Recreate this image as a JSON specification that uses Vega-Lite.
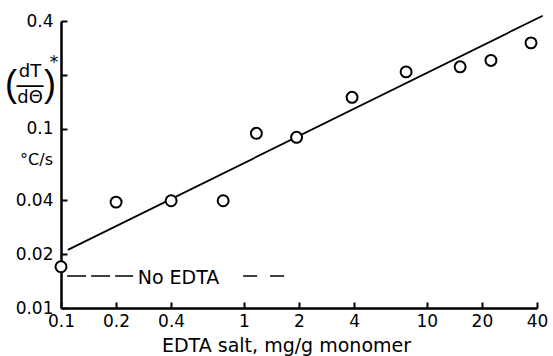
{
  "$schema": "https://vega.github.io/schema/vega-lite/v6.json",
  "width": 476,
  "height": 287,
  "autosize": "none",
  "padding": {"left": 61, "top": 21, "right": 16, "bottom": 48},
  "background": "white",
  "config": {
    "view": {"stroke": null},
    "font": "DejaVu Sans",
    "axis": {
      "grid": false,
      "domainColor": "black",
      "domainWidth": 2.5,
      "tickColor": "black",
      "tickWidth": 2,
      "tickSize": -6,
      "labelColor": "black",
      "labelFont": "DejaVu Sans",
      "labelFontSize": 17,
      "labelFlush": false,
      "titleFont": "DejaVu Sans",
      "titleFontSize": 19,
      "titleFontWeight": "normal",
      "titleColor": "black"
    }
  },
  "datasets": {
    "points": [
      {"x": 0.1, "y": 0.017},
      {"x": 0.2, "y": 0.039},
      {"x": 0.4, "y": 0.0397},
      {"x": 0.77, "y": 0.0397},
      {"x": 1.17, "y": 0.0944},
      {"x": 1.94, "y": 0.0897},
      {"x": 3.9, "y": 0.15},
      {"x": 7.7, "y": 0.208},
      {"x": 15.2, "y": 0.222},
      {"x": 22.4, "y": 0.241},
      {"x": 37.1, "y": 0.302}
    ],
    "fit": [
      {"x": 0.109, "y": 0.0211},
      {"x": 43, "y": 0.428}
    ],
    "lab": [
      {"x": 0.1, "y": 0.175, "u": 0.067}
    ]
  },
  "encoding": {
    "x": {"field": "x", "type": "quantitative", "scale": {"type": "log", "domain": [0.1, 40], "nice": false},
      "axis": {"values": [0.1, 0.2, 0.4, 1, 2, 4, 10, 20, 40], "format": "~g", "labelPadding": 11, "title": "EDTA salt, mg/g monomer", "titlePadding": 7, "titleX": 225}},
    "y": {"field": "y", "type": "quantitative", "scale": {"type": "log", "domain": [0.01, 0.4], "nice": false},
      "axis": {"values": [0.01, 0.02, 0.04, 0.1, 0.2, 0.4], "labelExpr": "datum.value == 0.2 ? '' : format(datum.value, '~g')", "labelPadding": 14, "title": null}}
  },
  "layer": [
    {
      "data": {"name": "fit"},
      "mark": {"type": "line", "color": "black", "strokeWidth": 1.8, "clip": false}
    },
    {
      "data": {"values": [{"x": 0.108, "x2": 0.248, "y": 0.0151}]},
      "mark": {"type": "rule", "color": "black", "strokeWidth": 1.6, "strokeDash": [19, 5]},
      "encoding": {"x2": {"field": "x2"}}
    },
    {
      "data": {"values": [{"x": 0.99, "x2": 1.72, "y": 0.0151}]},
      "mark": {"type": "rule", "color": "black", "strokeWidth": 1.6, "strokeDash": [14, 13]},
      "encoding": {"x2": {"field": "x2"}}
    },
    {
      "data": {"values": [{"x": 0.439, "y": 0.0151, "t": "No EDTA"}]},
      "mark": {"type": "text", "color": "black", "fontSize": 19, "align": "center", "baseline": "middle", "dy": 2},
      "encoding": {"text": {"field": "t"}}
    },
    {
      "data": {"name": "points"},
      "mark": {"type": "point", "shape": "circle", "filled": false, "fill": "white", "fillOpacity": 1, "stroke": "black", "strokeWidth": 2, "size": 120, "opacity": 1, "clip": false}
    },
    {
      "data": {"name": "lab"},
      "mark": {"type": "text", "text": "dT", "fontSize": 18, "color": "black", "align": "center", "baseline": "middle", "dx": -31, "dy": -13}
    },
    {
      "data": {"name": "lab"},
      "mark": {"type": "text", "text": "dΘ", "fontSize": 18, "color": "black", "align": "center", "baseline": "middle", "dx": -31, "dy": 13}
    },
    {
      "data": {"name": "lab"},
      "mark": {"type": "text", "text": "—", "font": "Liberation Sans", "fontSize": 27, "color": "black", "align": "center", "baseline": "middle", "dx": -31, "dy": 0}
    },
    {
      "data": {"name": "lab"},
      "mark": {"type": "text", "text": "(", "font": "Liberation Sans", "fontSize": 36, "color": "black", "align": "center", "baseline": "middle", "dx": -50, "dy": 0}
    },
    {
      "data": {"name": "lab"},
      "mark": {"type": "text", "text": ")", "font": "Liberation Sans", "fontSize": 36, "color": "black", "align": "center", "baseline": "middle", "dx": -11, "dy": 0}
    },
    {
      "data": {"name": "lab"},
      "mark": {"type": "text", "text": "*", "fontSize": 17, "color": "black", "align": "center", "baseline": "middle", "dx": -7, "dy": -22}
    },
    {
      "data": {"name": "lab"},
      "mark": {"type": "text", "text": "°C/s", "fontSize": 16, "color": "black", "align": "right", "baseline": "middle", "dx": -8},
      "encoding": {"y": {"field": "u", "type": "quantitative"}}
    }
  ]
}
